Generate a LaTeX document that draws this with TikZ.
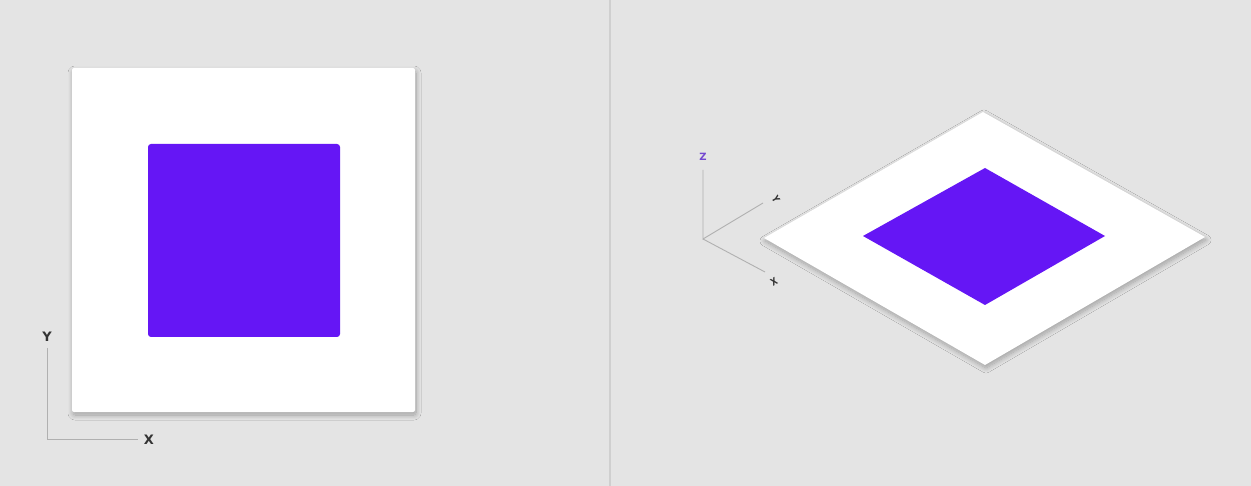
\documentclass[tikz,border=0pt]{standalone}
\usepackage{fontspec}
\setmainfont{Liberation Sans}
\newfontfamily\lblfont{DejaVu Sans}
\usetikzlibrary{shadows.blur}
\definecolor{bg}{HTML}{E4E4E4}
\definecolor{violet}{RGB}{101,22,245}
\definecolor{axisgray}{HTML}{B0B0B0}
\definecolor{labelgray}{HTML}{333333}
\definecolor{zviolet}{HTML}{7448D0}
\definecolor{divider}{HTML}{CFCFCF}
\tikzset{
  axisline/.style={draw=axisgray, line width=0.9pt},
  axlabel/.style={text=labelgray, font=\lblfont\bfseries\fontsize{13}{13}\selectfont, inner sep=0pt},
  isolabel/.style={text=labelgray, font=\lblfont\bfseries\fontsize{10}{10}\selectfont, inner sep=0pt},
  card/.style={fill=white, blur shadow={shadow xshift=1pt, shadow yshift=-3pt, shadow blur radius=5pt, shadow blur steps=12, shadow opacity=30}},
  tile/.style={fill=violet}
}
\begin{document}
\begin{tikzpicture}[x=1pt, y=-1pt]
  \useasboundingbox (0,0) rectangle (1251,486);
  \fill[bg] (0,0) rectangle (1251,486);
  % divider
  \draw[divider, line width=1.6pt] (610,0) -- (610,486);

  % ---------- left: top view ----------
  \path[card, rounded corners=2pt] (72,68) rectangle (415,412);
  \path[tile, rounded corners=3pt] (148,144) rectangle (340,337);

  \coordinate (lo) at (47,439);
  \coordinate (ly) at (47,348);
  \coordinate (lx) at (138,439);
  \draw[axisline] (ly) -- (lo) -- (lx);
  \node[axlabel] (labY) at (47,337) {Y};
  \node[axlabel] (labX) at (149,440) {X};

  % ---------- right: isometric view ----------
  \path[card] (983,112) -- (1205,237) -- (985,365) -- (764,238) -- cycle;
  \path[tile] (985,168) -- (1105,236) -- (985,305) -- (863,236) -- cycle;

  \coordinate (ro) at (703,239);
  \coordinate (rz) at (703,170);
  \coordinate (ry) at (763,203);
  \coordinate (rx) at (765,272);
  \draw[axisline] (rz) -- (ro) -- (ry);
  \draw[axisline] (ro) -- (rx);
  \node[isolabel, text=zviolet] (labZ) at (703,157) {Z};
  \node[isolabel, rotate=-60, xscale=0.8] (labIY) at (776,199) {Y};
  \node[isolabel, rotate=30, xscale=0.8] (labIX) at (774,282) {X};
\end{tikzpicture}
\end{document}
